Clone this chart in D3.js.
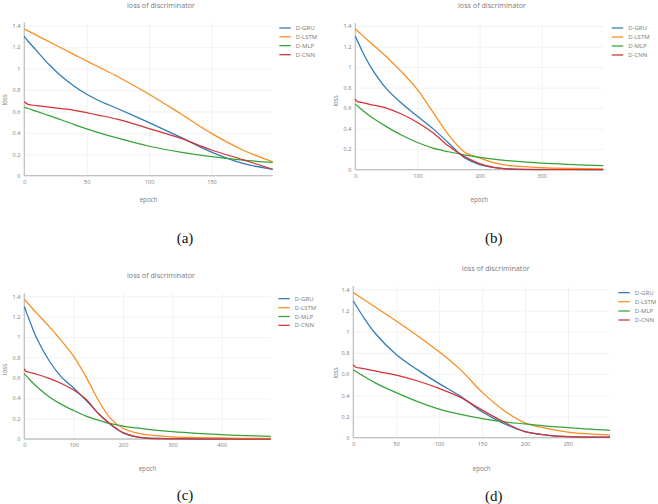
<!DOCTYPE html>
<html><head><meta charset="utf-8">
<script src="https://cdn.jsdelivr.net/npm/d3@7"></script>
<style>html,body{margin:0;padding:0;background:#fff}svg{display:block}</style>
</head><body>
<script>
// ---------- data ----------
const seriesNames = ["D-GRU", "D-LSTM", "D-MLP", "D-CNN"];
const seriesColors = ["#2f7bb4", "#fa8c1e", "#36a336", "#d23236"];
const yTickValues = [0, 0.2, 0.4, 0.6, 0.8, 1, 1.2, 1.4];
const yTickLabels = ["0", "0.2", "0.4", "0.6", "0.8", "1", "1.2", "1.4"];

// (a) 200 epochs
const epochsA = [0, 3, 10, 20, 30, 40, 50, 60, 75, 100, 125, 150, 175, 199];
const gruA  = [1.30, 1.255, 1.165, 1.035, 0.925, 0.835, 0.76, 0.70, 0.625, 0.495, 0.36, 0.22, 0.115, 0.06];
const lstmA = [1.37, 1.352, 1.31, 1.25, 1.19, 1.13, 1.07, 1.012, 0.924, 0.76, 0.58, 0.395, 0.24, 0.13];
const mlpA  = [0.64, 0.627, 0.60, 0.56, 0.52, 0.477, 0.437, 0.40, 0.35, 0.275, 0.22, 0.177, 0.146, 0.124];
const cnnA  = [0.69, 0.665, 0.655, 0.64, 0.625, 0.61, 0.588, 0.564, 0.526, 0.44, 0.35, 0.24, 0.15, 0.06];
const xTicksA = [0, 50, 100, 150];

// (b) 400 epochs
const epochsB = [0, 3, 10, 25, 50, 75, 100, 125, 150, 175, 200, 225, 250, 300, 350, 399];
const gruB  = [1.30, 1.26, 1.17, 1.0, 0.79, 0.645, 0.52, 0.40, 0.26, 0.12, 0.05, 0.02, 0.008, 0.003, 0.002, 0.001];
const lstmB = [1.37, 1.354, 1.316, 1.235, 1.10, 0.95, 0.78, 0.56, 0.34, 0.175, 0.115, 0.065, 0.04, 0.02, 0.012, 0.008];
const mlpB  = [0.64, 0.624, 0.587, 0.515, 0.42, 0.335, 0.265, 0.21, 0.175, 0.145, 0.12, 0.10, 0.085, 0.063, 0.05, 0.04];
const cnnB  = [0.69, 0.665, 0.655, 0.635, 0.60, 0.54, 0.46, 0.36, 0.23, 0.13, 0.06, 0.02, 0.005, 0.001, 0, 0];
const xTicksB = [0, 100, 200, 300];

// (c) 500 epochs
const epochsC = [0, 3, 10, 25, 50, 75, 100, 125, 150, 175, 200, 225, 250, 300, 350, 400, 450, 499];
const gruC  = [1.30, 1.26, 1.17, 0.99, 0.77, 0.61, 0.50, 0.38, 0.25, 0.14, 0.06, 0.023, 0.01, 0.004, 0.002, 0.001, 0.001, 0.001];
const lstmC = [1.37, 1.354, 1.316, 1.235, 1.105, 0.965, 0.81, 0.61, 0.38, 0.20, 0.105, 0.062, 0.04, 0.02, 0.014, 0.01, 0.007, 0.005];
const mlpC  = [0.64, 0.624, 0.587, 0.515, 0.415, 0.34, 0.28, 0.225, 0.185, 0.15, 0.127, 0.11, 0.095, 0.072, 0.055, 0.042, 0.033, 0.026];
const cnnC  = [0.69, 0.665, 0.655, 0.635, 0.595, 0.545, 0.48, 0.39, 0.25, 0.145, 0.062, 0.023, 0.006, 0.001, 0, 0, 0, 0];
const xTicksC = [0, 100, 200, 300, 400];

// (d) 300 epochs
const epochsD = [0, 3, 10, 25, 50, 75, 100, 125, 150, 175, 200, 225, 250, 275, 299];
const gruD  = [1.29, 1.25, 1.16, 0.99, 0.785, 0.64, 0.51, 0.39, 0.245, 0.135, 0.057, 0.025, 0.01, 0.006, 0.005];
const lstmD = [1.37, 1.354, 1.316, 1.235, 1.10, 0.96, 0.81, 0.64, 0.43, 0.26, 0.14, 0.088, 0.053, 0.035, 0.025];
const mlpD  = [0.64, 0.625, 0.59, 0.52, 0.425, 0.34, 0.27, 0.22, 0.18, 0.15, 0.13, 0.11, 0.095, 0.08, 0.07];
const cnnD  = [0.69, 0.665, 0.655, 0.63, 0.59, 0.535, 0.465, 0.38, 0.26, 0.15, 0.057, 0.025, 0.01, 0.006, 0.005];
const xTicksD = [0, 50, 100, 150, 200, 250];

const captions = ["(a)", "(b)", "(c)", "(d)"];
const chartTitle = "loss of discriminator";
const xTitle = "epoch";
const yTitle = "loss";

// ---------- layout ----------
const panels = [
  {epochs: epochsA, series: [gruA, lstmA, mlpA, cnnA], xTicks: xTicksA,
   x0: 24.3, x1: 272.7, y0: 175.7, y14: 25.7, titleX: 161, titleY: 7.5,
   legX: 279.3, legY: [28, 36.8, 45.7, 54.7], lossX: 5, lossY: 100, epochY: 201.5, capX: 185, capY: 242.5},
  {epochs: epochsB, series: [gruB, lstmB, mlpB, cnnB], xTicks: xTicksB,
   x0: 355.3, x1: 603.3, y0: 169.7, y14: 26, titleX: 492, titleY: 7.5,
   legX: 611.7, legY: [28, 37, 46, 55], lossX: 335.5, lossY: 101, epochY: 202, capX: 493.7, capY: 242.5},
  {epochs: epochsC, series: [gruC, lstmC, mlpC, cnnC], xTicks: xTicksC,
   x0: 24.3, x1: 270.7, y0: 439, y14: 296.3, titleX: 161, titleY: 277.5,
   legX: 278.3, legY: [298.7, 307.7, 316.5, 325.3], lossX: 5, lossY: 369.5, epochY: 471, capX: 185, capY: 500},
  {epochs: epochsD, series: [gruD, lstmD, mlpD, cnnD], xTicks: xTicksD,
   x0: 353.3, x1: 610, y0: 437.7, y14: 289.3, titleX: 495.7, titleY: 271,
   legX: 618.3, legY: [292.7, 301.7, 311, 320], lossX: 335.5, lossY: 373, epochY: 471, capX: 493.7, capY: 501}
];

const W = 658, H = 504;
const svg = d3.select("body").append("svg").attr("width", W).attr("height", H);
const FONT = "'Open Sans', 'Liberation Sans', Arial, sans-serif";
const TXT = "#7a7a7a";

panels.forEach((p, i) => {
  const xMax = p.epochs[p.epochs.length - 1];
  const x = d3.scaleLinear().domain([0, xMax]).range([p.x0, p.x1]);
  const y = d3.scaleLinear().domain([0, 1.4]).range([p.y0, p.y14]);
  const g = svg.append("g");
  const yTop = y(1.43);

  const ya = g.append("g").attr("transform", `translate(${p.x0},0)`)
    .call(d3.axisLeft(y).tickValues(yTickValues)
      .tickFormat((d, k) => yTickLabels[k])
      .tickSize(-(p.x1 - p.x0)).tickPadding(4));
  ya.select(".domain").remove();
  ya.selectAll("line").attr("stroke", "#efefef").attr("stroke-width", 0.8);
  ya.selectAll("text").attr("fill", TXT).style("font-family", FONT).style("font-size", "5.5px");

  const xa = g.append("g").attr("transform", `translate(0,${p.y0})`)
    .call(d3.axisBottom(x).tickValues(p.xTicks).tickFormat(d3.format("d"))
      .tickSize(-(p.y0 - yTop)).tickPadding(4));
  xa.select(".domain").remove();
  xa.selectAll("line").attr("stroke", "#efefef").attr("stroke-width", 0.8);
  xa.selectAll("text").attr("fill", TXT).style("font-family", FONT).style("font-size", "5.5px");

  g.append("line").attr("x1", p.x0).attr("x2", p.x1).attr("y1", y(0)).attr("y2", y(0))
    .attr("stroke", "#c2c2c2").attr("stroke-width", 1.3);
  g.append("line").attr("x1", x(0)).attr("x2", x(0)).attr("y1", y(0)).attr("y2", yTop)
    .attr("stroke", "#c2c2c2").attr("stroke-width", 1.3);

  const line = d3.line().x((d, k) => x(p.epochs[k])).y(d => y(d)).curve(d3.curveCatmullRom.alpha(0.5));
  p.series.forEach((s, k) => {
    g.append("path").datum(s).attr("d", line).attr("fill", "none")
      .attr("stroke", seriesColors[k]).attr("stroke-width", 1.25).attr("stroke-linejoin", "round");
  });

  g.append("text").attr("x", p.titleX).attr("y", p.titleY).attr("text-anchor", "middle")
    .attr("fill", TXT).style("font-family", FONT).style("font-size", "7.2px").text(chartTitle);
  g.append("text").attr("x", (p.x0 + p.x1) / 2).attr("y", p.epochY).attr("text-anchor", "middle")
    .attr("fill", TXT).style("font-family", FONT).style("font-size", "6.2px").text(xTitle);
  g.append("text").attr("transform", `translate(${p.lossX},${p.lossY}) rotate(-90)`)
    .attr("text-anchor", "middle").attr("dy", "0.35em")
    .attr("fill", TXT).style("font-family", FONT).style("font-size", "6.2px").text(yTitle);

  seriesNames.forEach((n, k) => {
    g.append("line").attr("x1", p.legX).attr("x2", p.legX + 11.5)
      .attr("y1", p.legY[k]).attr("y2", p.legY[k])
      .attr("stroke", seriesColors[k]).attr("stroke-width", 1.25);
    g.append("text").attr("x", p.legX + 16.5).attr("y", p.legY[k]).attr("dy", "0.35em")
      .attr("fill", TXT).style("font-family", FONT).style("font-size", "6px").text(n);
  });

  svg.append("text").attr("x", p.capX).attr("y", p.capY).attr("text-anchor", "middle")
    .attr("fill", "#111").style("font-family", "'Liberation Serif', 'Times New Roman', serif")
    .style("font-size", "15px").text(captions[i]);
});
</script>
</body></html>
